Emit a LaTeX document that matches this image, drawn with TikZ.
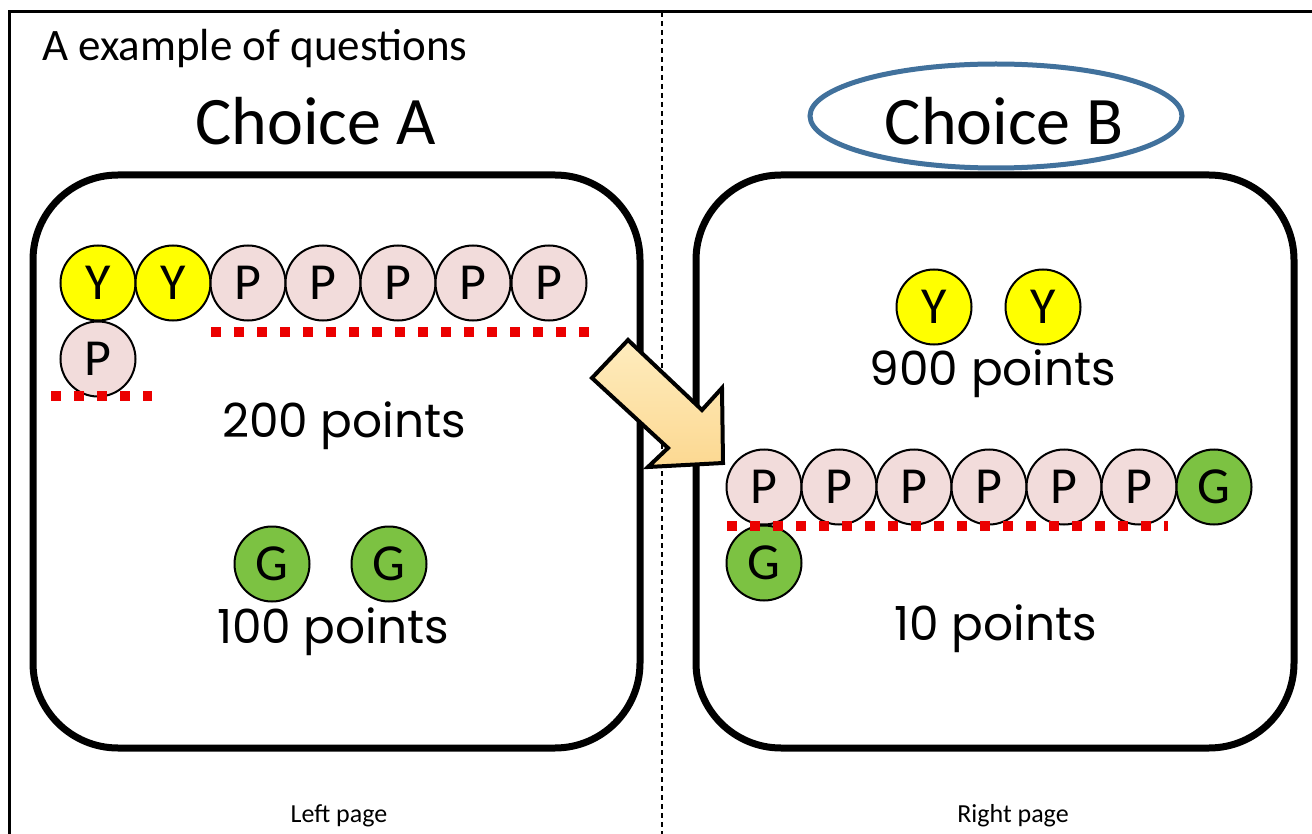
\documentclass[tikz,border=0pt]{standalone}
\usepackage{fontspec}
\setmainfont{Carlito}
\newfontfamily\ptsfont{Poppins}
\usetikzlibrary{shapes.geometric}
\definecolor{ycol}{RGB}{255,255,0}
\definecolor{pcol}{RGB}{242,220,219}
\definecolor{gcol}{RGB}{124,194,66}
\definecolor{ecol}{RGB}{65,113,156}
\definecolor{rcol}{RGB}{235,0,0}
\definecolor{arrA}{RGB}{254,236,190}
\definecolor{arrB}{RGB}{252,216,145}
\begin{document}
\begin{tikzpicture}[x=1pt,y=-1pt,
  ball/.style={circle,draw=black,line width=2pt,minimum size=75pt,inner sep=0pt,font=\fontsize{52}{52}\selectfont},
  yb/.style={ball,fill=ycol},
  pb/.style={ball,fill=pcol},
  gb/.style={ball,fill=gcol},
  panel/.style={draw=black,line width=7pt,rounded corners=85pt,inner sep=0pt},
  dots/.style={draw=rcol,line width=10pt,dash pattern=on 10pt off 13pt},
  pts/.style={font=\ptsfont\fontsize{47}{47}\selectfont,inner sep=0pt},
  big/.style={font=\fontsize{68}{68}\selectfont,inner sep=0pt},
  small/.style={font=\fontsize{26}{26}\selectfont,inner sep=0pt}
]
\useasboundingbox (0,0) rectangle (1312,834);
\fill[white] (0,0) rectangle (1312,834);
% frame
\draw[line width=3pt] (9,834) -- (9,12) -- (1312,12);
\draw[line width=1.2pt,dash pattern=on 5pt off 4pt] (662,12) -- (662,834);
% title
\node[anchor=base west,inner sep=0pt,font=\fontsize{45}{45}\selectfont] (title) at (42,61) {A example of questions};
\node[big,anchor=base] (chA) at (316,145) {Choice A};
\node[big,anchor=base] (chB) at (1004,145) {Choice B};
\node[ellipse,draw=ecol,line width=5pt,minimum width=372pt,minimum height=104pt] (ell) at (996,116) {};
% panels
\node[panel,minimum width=607pt,minimum height=573pt] (boxA) at (336.5,461.5) {};
\node[panel,minimum width=598pt,minimum height=573pt] (boxB) at (995,461.5) {};
% left balls
\node[yb] (a1) at (98,283) {Y};
\node[yb] (a2) at (173,283) {Y};
\node[pb] (a3) at (248,283) {P};
\node[pb] (a4) at (323,283) {P};
\node[pb] (a5) at (398,283) {P};
\node[pb] (a6) at (473,283) {P};
\node[pb] (a7) at (549,283) {P};
\node[pb] (a8) at (98,359) {P};
\draw[dots] (211,332) -- (590,332);
\draw[dots] (51,396) -- (152,396);
\node[pts,anchor=base] (ptsA1) at (344,437) {200 points};
\node[gb] (ag1) at (272,564) {G};
\node[gb] (ag2) at (389,564) {G};
\node[pts,anchor=base] (ptsA2) at (333,643) {100 points};
% right balls
\node[yb] (b1) at (934,307) {Y};
\node[yb] (b2) at (1043,307) {Y};
\node[pts,anchor=base] (ptsB1) at (993,385) {900 points};
\node[pb] (b3) at (764,487) {P};
\node[pb] (b4) at (839,487) {P};
\node[pb] (b5) at (914,487) {P};
\node[pb] (b6) at (989,487) {P};
\node[pb] (b7) at (1064,487) {P};
\node[pb] (b8) at (1139,487) {P};
\node[gb] (b9) at (1214,487) {G};
\node[gb] (b10) at (764,563) {G};
\draw[dots] (727,526) -- (1168,526);
\node[pts,anchor=base] (ptsB2) at (996,640) {10 points};
% arrow
\draw[line width=4pt,line join=miter,shading angle=135,top color=arrA,bottom color=arrB]
  (592,378) -- (628,340) -- (702,410) -- (722,388) -- (723,463) -- (648,467) -- (668,448) -- cycle;
% footer
\node[small,anchor=base] (lp) at (339,822) {Left page};
\node[small,anchor=base] (rp) at (1013,822) {Right page};
\end{tikzpicture}
\end{document}
